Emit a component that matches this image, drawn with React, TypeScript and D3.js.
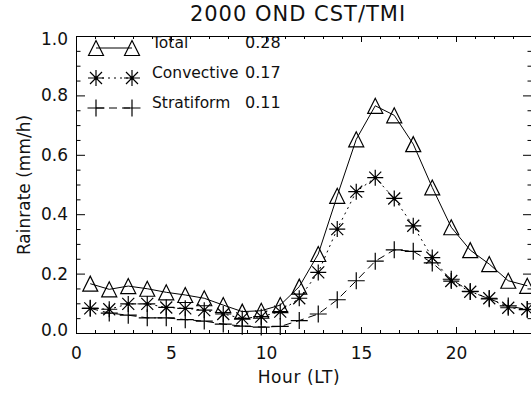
import React, { useEffect, useRef } from 'react';
import * as d3 from 'd3';

// local time of each sample (hour)
const hours = [
  0.75, 1.75, 2.75, 3.75, 4.75, 5.75, 6.75, 7.75, 8.75, 9.75, 10.75, 11.75,
  12.75, 13.75, 14.75, 15.75, 16.75, 17.75, 18.75, 19.75, 20.75, 21.75, 22.75, 23.75,
];
const totalRain = [
  0.166, 0.147, 0.158, 0.149, 0.137, 0.128, 0.117, 0.094, 0.072, 0.075, 0.094, 0.156,
  0.266, 0.462, 0.652, 0.765, 0.733, 0.636, 0.49, 0.356, 0.279, 0.232, 0.176, 0.159,
];
const convRain = [
  0.083, 0.08, 0.098, 0.098, 0.086, 0.083, 0.077, 0.064, 0.049, 0.055, 0.072, 0.117,
  0.204, 0.35, 0.476, 0.523, 0.453, 0.361, 0.254, 0.175, 0.139, 0.117, 0.085, 0.08,
];
const stratRain = [
  0.083, 0.067, 0.06, 0.051, 0.051, 0.045, 0.04, 0.03, 0.023, 0.02, 0.022, 0.042,
  0.064, 0.112, 0.176, 0.242, 0.28, 0.275, 0.236, 0.181, 0.14, 0.115, 0.091, 0.079,
];

const legendNames = ['Total', 'Convective', 'Stratiform'];
const legendMeans = ['0.28', '0.17', '0.11'];
const xMajor = [0, 5, 10, 15, 20];
const yMajor = [0, 0.2, 0.4, 0.6, 0.8, 1.0];

const width = 531;
const height = 393;
const FONT = "'DejaVu Sans', sans-serif";

const App = () => {
  const svgRef = useRef<SVGSVGElement>(null);

  useEffect(() => {
    if (!svgRef.current) return;
    const svg = d3.select(svgRef.current);
    svg.selectAll('*').remove();

    const margin = { top: 36, right: -1, bottom: 60, left: 76 };
    const x = d3.scaleLinear().domain([0, 24]).range([margin.left, width - margin.right]);
    const y = d3.scaleLinear().domain([0, 1]).range([height - margin.bottom, margin.top]);
    const [x0, x1] = x.range();
    const [y0, y1] = y.range();

    const xMinor = d3.range(0, 25).filter(h => h % 5 !== 0);
    const yMinor = d3.range(0, 21).map(i => i * 0.05).filter((_, i) => i % 4 !== 0);

    const axisStyle = (g: any) => {
      g.select('.domain').remove();
      g.selectAll('line').attr('stroke', '#000').attr('stroke-width', 1);
      g.selectAll('text').attr('font-family', FONT).attr('font-size', 17).attr('fill', '#111');
    };

    // bottom axis
    svg.append('g')
      .attr('transform', `translate(0,${y0})`)
      .call(d3.axisBottom(x).tickValues(xMajor).tickSize(-6).tickPadding(14).tickFormat(d3.format('d')))
      .call(axisStyle);
    svg.append('g')
      .attr('transform', `translate(0,${y0})`)
      .call(d3.axisBottom(x).tickValues(xMinor).tickSize(-3).tickFormat(() => ''))
      .call(axisStyle);
    // top axis
    svg.append('g')
      .attr('transform', `translate(0,${y1})`)
      .call(d3.axisTop(x).tickValues(xMajor).tickSize(-6).tickFormat(() => ''))
      .call(axisStyle);
    svg.append('g')
      .attr('transform', `translate(0,${y1})`)
      .call(d3.axisTop(x).tickValues(xMinor).tickSize(-3).tickFormat(() => ''))
      .call(axisStyle);
    // left axis
    const leftAxis = svg.append('g')
      .attr('transform', `translate(${x0},0)`)
      .call(d3.axisLeft(y).tickValues(yMajor).tickSize(-9).tickPadding(8).tickFormat(d3.format('.1f')))
      .call(axisStyle);
    // end labels sit a little inside the frame
    leftAxis.selectAll('text')
      .attr('y', (d: any) => (d === 1 ? 3 : d === 0 ? -3 : 0));
    svg.append('g')
      .attr('transform', `translate(${x0},0)`)
      .call(d3.axisLeft(y).tickValues(yMinor).tickSize(-4.5).tickFormat(() => ''))
      .call(axisStyle);
    // right axis
    svg.append('g')
      .attr('transform', `translate(${x1},0)`)
      .call(d3.axisRight(y).tickValues(yMajor).tickSize(-9).tickFormat(() => ''))
      .call(axisStyle);
    svg.append('g')
      .attr('transform', `translate(${x1},0)`)
      .call(d3.axisRight(y).tickValues(yMinor).tickSize(-4.5).tickFormat(() => ''))
      .call(axisStyle);

    // frame
    svg.append('rect')
      .attr('x', x0 + 0.5).attr('y', y1 + 0.5)
      .attr('width', x1 - x0).attr('height', y0 - y1)
      .attr('fill', 'none').attr('stroke', '#000').attr('stroke-width', 1);

    const series = [
      { name: 'total', values: totalRain, dash: null, mark: 'triangle' },
      { name: 'conv', values: convRain, dash: '2,4', mark: 'asterisk' },
      { name: 'strat', values: stratRain, dash: '8,5', mark: 'plus' },
    ];

    const drawMark = (g: any, kind: string, cx: number, cy: number) => {
      if (kind === 'triangle') {
        const s = 7.5;
        g.append('path')
          .attr('d', `M${cx - s},${cy + s}L${cx},${cy - s}L${cx + s},${cy + s}Z`)
          .attr('fill', 'none').attr('stroke', '#000').attr('stroke-width', 1.2);
      } else if (kind === 'asterisk') {
        const s = 8, d = 6;
        g.append('path')
          .attr('d', `M${cx - s},${cy}H${cx + s}M${cx},${cy - s}V${cy + s}M${cx - d},${cy - d}L${cx + d},${cy + d}M${cx - d},${cy + d}L${cx + d},${cy - d}`)
          .attr('stroke', '#000').attr('stroke-width', 1.2);
        g.append('circle').attr('cx', cx).attr('cy', cy).attr('r', 1.6).attr('fill', '#000');
      } else {
        const s = 8.5;
        g.append('path')
          .attr('d', `M${cx - s},${cy}H${cx + s}M${cx},${cy - s}V${cy + s}`)
          .attr('stroke', '#000').attr('stroke-width', 1.2);
      }
    };

    const line = d3.line<number>()
      .x((_, i) => x(hours[i]))
      .y(d => y(d));

    const plot = svg.append('g');
    series.forEach(s => {
      plot.append('path')
        .datum(s.values)
        .attr('d', line)
        .attr('fill', 'none')
        .attr('stroke', '#000')
        .attr('stroke-width', 1)
        .attr('stroke-dasharray', s.dash);
      s.values.forEach((v, i) => drawMark(plot, s.mark, x(hours[i]), y(v)));
    });

    // legend
    const legend = svg.append('g');
    series.forEach((s, i) => {
      const ly = 48 + i * 30;
      legend.append('line')
        .attr('x1', 96).attr('x2', 132).attr('y1', ly).attr('y2', ly)
        .attr('stroke', '#000').attr('stroke-width', 1)
        .attr('stroke-dasharray', s.dash);
      drawMark(legend, s.mark, 96, ly);
      drawMark(legend, s.mark, 132, ly);
      legend.append('text')
        .attr('x', 152).attr('y', ly)
        .attr('font-family', FONT).attr('font-size', 15.5).attr('fill', '#111')
        .text(legendNames[i]);
      legend.append('text')
        .attr('x', 245).attr('y', ly)
        .attr('font-family', FONT).attr('font-size', 16).attr('fill', '#111')
        .text(legendMeans[i]);
    });

    // titles
    svg.append('text')
      .attr('x', 298).attr('y', 21)
      .attr('text-anchor', 'middle')
      .attr('font-family', FONT).attr('font-size', 21).attr('letter-spacing', 1).attr('fill', '#111')
      .text('2000 OND CST/TMI');
    svg.append('text')
      .attr('x', 299).attr('y', 383)
      .attr('text-anchor', 'middle')
      .attr('font-family', FONT).attr('font-size', 17).attr('letter-spacing', 0.6).attr('fill', '#111')
      .text('Hour (LT)');
    svg.append('text')
      .attr('transform', `translate(30,185) rotate(-90)`)
      .attr('text-anchor', 'middle')
      .attr('font-family', FONT).attr('font-size', 17).attr('fill', '#111')
      .text('Rainrate (mm/h)');
  }, []);

  return (
    <svg
      ref={svgRef}
      width={width}
      height={height}
      style={{ position: 'absolute', left: 0, top: 0, background: '#fff' }}
    />
  );
};

export default App;
